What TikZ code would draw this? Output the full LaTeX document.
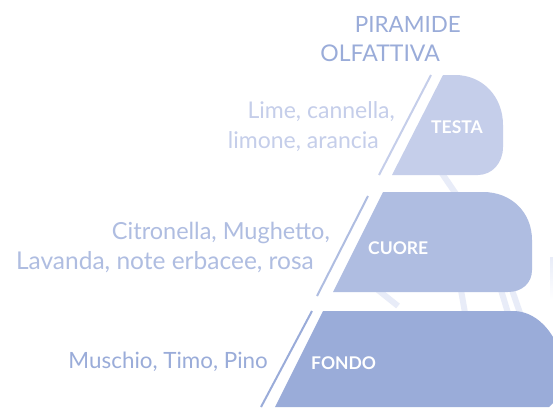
\documentclass[tikz,border=0pt]{standalone}
\usepackage{fontspec}
\setmainfont{Lato}
\definecolor{cTesta}{HTML}{C5CEEA}
\definecolor{cCuore}{HTML}{AFBDE1}
\definecolor{cFondo}{HTML}{9AACD9}
\definecolor{cFaint}{HTML}{E8ECF8}
\tikzset{
  tier/.style={fill=#1,draw=none},
  rule/.style={draw=#1,line width=2pt},
  faint/.style={draw=cFaint,line width=6pt},
  lab/.style={text=white,font=\bfseries\fontsize{17.5}{20}\selectfont,anchor=west,inner sep=0pt},
  side/.style={text=#1,anchor=east,inner sep=0pt},
  fs/.style={font=\fontsize{#1}{#1}\selectfont},
}
\begin{document}
\begin{tikzpicture}[x=1pt,y=-1pt]
\useasboundingbox (0,0) rectangle (553,407);
\fill[white] (0,0) rectangle (553,407);
% faint background strokes
\draw[faint] (441,172) -- (456,194);
\draw[faint] (378,290) -- (398,306);
\draw[faint] (461,290) -- (465,313);
\draw[faint] (501,290) -- (508,313);
\draw[faint] (512,290) -- (520,313);
\shade[top color=cFaint,bottom color=white] (550,257) rectangle (553,300);
% tiers
\path[tier=cTesta] (443,75) -- (455,75) .. controls (483,75) and (503,97) .. (503,125) -- (503,147) .. controls (503,163) and (492,175) .. (478,175) -- (392,175) -- cycle;
\path[tier=cCuore] (383,192) -- (483,192) .. controls (512,192) and (532,213) .. (532,240) -- (532,270) .. controls (532,283) and (522,292) .. (508,292) -- (333,292) -- cycle;
\path[tier=cFondo] (323,311) -- (513,311) .. controls (530,311) and (544,322) .. (553,337) -- (553,403) -- (549,407) -- (275,407) -- cycle;
% rules
\coordinate (t1) at (431,75); \coordinate (t2) at (379,175);
\coordinate (c1) at (368,196); \coordinate (c2) at (317,296);
\coordinate (f1) at (312,311); \coordinate (f2) at (261,407);
\draw[rule=cTesta] (t1) -- (t2);
\draw[rule=cCuore] (c1) -- (c2);
\draw[rule=cFondo] (f1) -- (f2);
% labels
\node[lab] (testa) at (431,127) {TESTA};
\node[lab] (cuore) at (368,248) {CUORE};
\node[lab] (fondo) at (311,363) {FONDO};
\node[side=cFondo,fs=22.4] (tit1) at (461,24) {PIRAMIDE};
\node[side=cFondo,fs=23] (tit2) at (440,53) {OLFATTIVA};
\node[side=cTesta,fs=23] (l1) at (395,112) {Lime, cannella,};
\node[side=cTesta,fs=23] (l2) at (379,142) {limone, arancia};
\node[side=cCuore,fs=23.5] (l3) at (330,233) {Citronella, Mughetto,};
\node[side=cCuore,fs=24.5] (l4) at (314,262) {Lavanda, note erbacee, rosa};
\node[side=cFondo,fs=22.4] (l5) at (268,362) {Muschio, Timo, Pino};
\end{tikzpicture}
\end{document}
